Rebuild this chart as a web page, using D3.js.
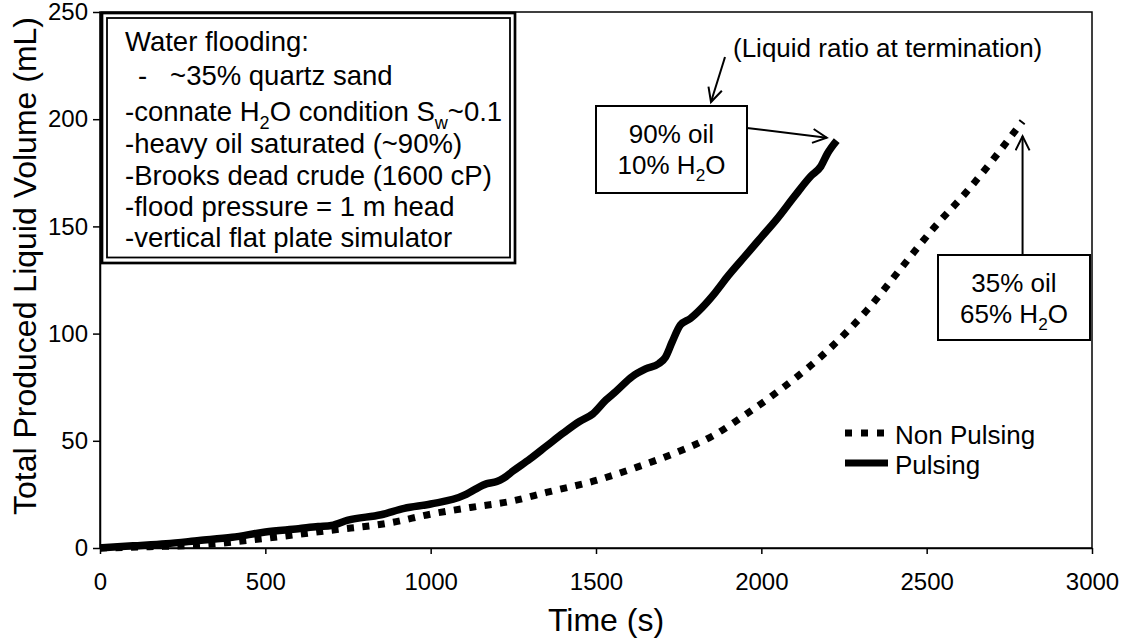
<!DOCTYPE html>
<html>
<head>
<meta charset="utf-8">
<script src="https://cdn.jsdelivr.net/npm/d3@7"></script>
<style>
  body { margin: 0; background: #fff; }
  #chart { width: 1130px; height: 639px; }
  text { font-family: Arial, "Liberation Sans", sans-serif; fill: #000; }
</style>
</head>
<body>
<div id="chart"></div>
<script>
// axis ticks
const timeTicks = [0, 500, 1000, 1500, 2000, 2500, 3000];
const volumeTicks = [0, 50, 100, 150, 200, 250];

// pulsing run (s, mL)
const pulsingTime = [0, 100, 200, 300, 400, 500, 600, 660, 700, 750, 850, 920, 1000, 1100, 1130, 1170, 1200, 1220, 1250, 1300, 1350, 1400, 1450, 1490, 1530, 1560, 1610, 1650, 1690, 1710, 1730, 1755, 1785, 1820, 1860, 1900, 1950, 2000, 2050, 2100, 2150, 2180, 2200, 2228];
const pulsingVolume = [0, 1, 2, 3.5, 5, 7.5, 9, 10, 10.5, 13, 15.5, 18.5, 20.5, 24.5, 27, 30, 31, 32.5, 36, 41.5, 47.5, 53.5, 59, 62.5, 69, 73, 80, 83.5, 86, 89, 96, 104, 107, 112, 119, 127, 136, 145, 154, 164, 173.5, 178, 184, 190];

// non pulsing run (s, mL)
const nonPulsingTime = [0, 150, 300, 500, 700, 880, 1000, 1120, 1250, 1350, 1500, 1620, 1750, 1850, 1950, 2050, 2200, 2320, 2420, 2520, 2620, 2700, 2760, 2790];
const nonPulsingVolume = [0, 0.6, 1.4, 4.5, 8.3, 11.8, 15.8, 18.9, 22, 25.9, 31.5, 37.5, 45, 52, 62, 73, 92, 111, 130, 149, 166, 181, 193, 199];

// texts ("_x" = subscript x)
const noteLines = [
  'Water flooding:',
  '-\u00a0\u00a0\u00a0~35% quartz sand',
  '-connate H_2O condition S_w~0.1',
  '-heavy oil saturated (~90%)',
  '-Brooks dead crude (1600 cP)',
  '-flood pressure = 1 m head',
  '-vertical flat plate simulator'
];
const pulsingRatio = ['90% oil', '10% H_2O'];
const nonPulsingRatio = ['35% oil', '65% H_2O'];
const legendLabels = ['Non Pulsing', 'Pulsing'];

(function () {

  const width = 1130;
  const height = 639;

  const svg = d3.select('#chart')
    .append('svg')
    .attr('width', width)
    .attr('height', height);

  // plot area
  const left = 100, right = 1092, top = 12, bottom = 548;

  const x = d3.scaleLinear().domain([0, 3000]).range([left, right]);
  const y = d3.scaleLinear().domain([0, 250]).range([bottom, top]);

  // arrow head
  svg.append('defs').append('marker')
    .attr('id', 'arrow')
    .attr('markerUnits', 'userSpaceOnUse')
    .attr('markerWidth', 20)
    .attr('markerHeight', 20)
    .attr('refX', 15)
    .attr('refY', 8)
    .attr('orient', 'auto')
    .append('path')
    .attr('d', 'M1,1 L15,8 L1,15')
    .attr('fill', 'none')
    .attr('stroke', '#000')
    .attr('stroke-width', 2);

  // frame
  svg.append('rect')
    .attr('x', left).attr('y', top)
    .attr('width', right - left).attr('height', bottom - top)
    .attr('fill', 'none')
    .attr('stroke', '#000')
    .attr('stroke-width', 1.5);

  // axes
  const xAxis = svg.append('g')
    .attr('transform', `translate(0,${bottom})`)
    .call(d3.axisBottom(x).tickValues(timeTicks).tickFormat(d3.format('d'))
      .tickSize(6).tickSizeOuter(0).tickPadding(19));

  const yAxis = svg.append('g')
    .attr('transform', `translate(${left},0)`)
    .call(d3.axisLeft(y).tickValues(volumeTicks).tickFormat(d3.format('d'))
      .tickSize(7).tickSizeOuter(0).tickPadding(5));

  [xAxis, yAxis].forEach(g => {
    g.selectAll('path, line').attr('stroke', '#000').attr('stroke-width', 1.5);
    g.selectAll('text').style('font-size', '24px').attr('fill', '#000');
  });

  // axis titles
  svg.append('text')
    .attr('x', 606).attr('y', 631)
    .attr('text-anchor', 'middle')
    .style('font-size', '32px')
    .text('Time (s)');

  svg.append('text')
    .attr('transform', 'translate(36,266) rotate(-90)')
    .attr('text-anchor', 'middle')
    .style('font-size', '32px')
    .text('Total Produced Liquid Volume (mL)');

  // line generator
  const line = d3.line()
    .x(d => x(d[0]))
    .y(d => y(d[1]))
    .curve(d3.curveMonotoneX);

  const pulsing = d3.zip(pulsingTime, pulsingVolume);
  const nonPulsing = d3.zip(nonPulsingTime, nonPulsingVolume);

  svg.append('path')
    .datum(nonPulsing)
    .attr('d', line)
    .attr('fill', 'none')
    .attr('stroke', '#000')
    .attr('stroke-width', 7)
    .attr('stroke-dasharray', '7 8.5');

  svg.append('path')
    .datum(pulsing)
    .attr('d', line)
    .attr('fill', 'none')
    .attr('stroke', '#000')
    .attr('stroke-width', 7.5)
    .attr('stroke-linejoin', 'round');

  // writes a string into a text element, "_x" becomes a subscript
  function richText(sel, str, size) {
    const parts = str.split(/_(\w)/);
    parts.forEach((p, i) => {
      if (!p) return;
      const t = sel.append('tspan').text(p);
      if (i % 2 === 1) {
        t.style('font-size', (size * 0.66) + 'px').attr('dy', size * 0.28);
      } else if (i > 0) {
        t.attr('dy', -size * 0.28);
      }
    });
  }

  // notes box with double border
  const note = svg.append('g');
  note.append('rect')
    .attr('x', 102).attr('y', 13).attr('width', 413).attr('height', 250)
    .attr('fill', '#fff').attr('stroke', '#000').attr('stroke-width', 2.7);
  note.append('rect')
    .attr('x', 107).attr('y', 18).attr('width', 403).attr('height', 239.5)
    .attr('fill', 'none').attr('stroke', '#000').attr('stroke-width', 1.8);

  const noteBaselines = [51, 84.5, 121, 153, 185, 216, 247];
  noteLines.forEach((s, i) => {
    const t = note.append('text')
      .attr('x', i === 1 ? 138 : 125)
      .attr('y', noteBaselines[i])
      .style('font-size', '27.5px');
    richText(t, s, 27.5);
  });

  // ratio boxes
  function ratioBox(lines, bx, by, bw, bh) {
    const g = svg.append('g');
    g.append('rect')
      .attr('x', bx).attr('y', by).attr('width', bw).attr('height', bh)
      .attr('fill', '#fff').attr('stroke', '#000').attr('stroke-width', 2);
    lines.forEach((s, i) => {
      const t = g.append('text')
        .attr('x', bx + bw / 2)
        .attr('y', by + 37 + i * 31)
        .attr('text-anchor', 'middle')
        .style('font-size', '26px');
      richText(t, s, 26);
    });
  }

  ratioBox(pulsingRatio, 596, 106, 151, 87);
  ratioBox(nonPulsingRatio, 938, 255, 152, 85);

  // arrows pointing to the end of each run
  const pEnd = pulsing[pulsing.length - 1];
  const nEnd = nonPulsing[nonPulsing.length - 1];

  function arrow(x1, y1, x2, y2) {
    svg.append('line')
      .attr('x1', x1).attr('y1', y1).attr('x2', x2).attr('y2', y2)
      .attr('stroke', '#000').attr('stroke-width', 2)
      .attr('marker-end', 'url(#arrow)');
  }

  arrow(747, 128, x(pEnd[0]) - 10, y(pEnd[1]) - 3);
  arrow(x(nEnd[0]), 255, x(nEnd[0]), y(nEnd[1]) + 15);
  arrow(725, 57, 711, 102);

  svg.append('text')
    .attr('x', 733).attr('y', 57)
    .style('font-size', '26px')
    .text('(Liquid ratio at termination)');

  // legend
  const legend = svg.append('g').attr('transform', 'translate(845,433)');
  legendLabels.forEach((label, i) => {
    const row = legend.append('g').attr('transform', `translate(0,${i * 30})`);
    row.append('line')
      .attr('x1', 0).attr('x2', i === 0 ? 40 : 43)
      .attr('stroke', '#000')
      .attr('stroke-width', 7)
      .attr('stroke-dasharray', i === 0 ? '7 9' : null);
    row.append('text')
      .attr('x', 50).attr('y', 10.5)
      .style('font-size', '26px')
      .text(label);
  });

})();
</script>
</body>
</html>
